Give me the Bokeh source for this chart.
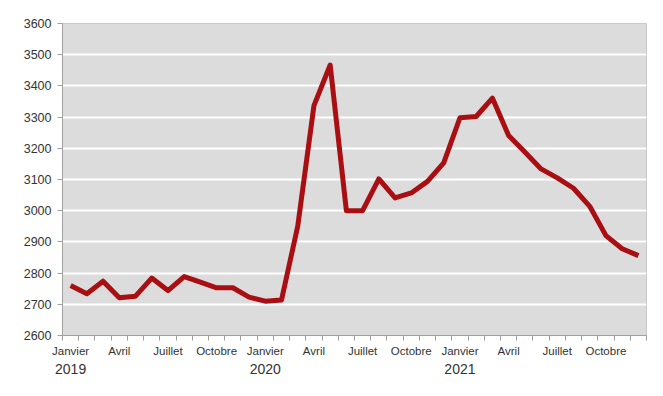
from bokeh.plotting import figure
from bokeh.models import Range1d, LinearAxis, FixedTicker
from bokeh.embed import file_html
from bokeh.resources import INLINE

month_labels = ["Janvier", "Avril", "Juillet", "Octobre"]
years = ["2019", "2020", "2021"]
values = [2760, 2734, 2774, 2721, 2726, 2784, 2744, 2789, 2771, 2753, 2753, 2723,
          2710, 2714, 2950, 3337, 3467, 3000, 3000, 3102, 3041, 3057, 3094, 3153,
          3298, 3302, 3361, 3241, 3188, 3134, 3105, 3072, 3014, 2920, 2878, 2856]
y_ticks = list(range(2600, 3601, 100))

n = len(values)
xs = list(range(n))

FONT = "Liberation Sans"

p = figure(frame_width=584, frame_height=312, output_backend="svg", toolbar_location=None,
           x_range=Range1d(-0.5, n - 0.5), y_range=Range1d(2600, 3600),
           min_border_left=62, min_border_right=9, min_border_top=23, min_border_bottom=8)
p.background_fill_color = "#dcdcdc"
p.border_fill_color = "white"
p.outline_line_color = "#c8c8c8"

p.line(xs, values, line_color="#a90f12", line_width=5, line_join="round")

# y axis
p.yaxis.ticker = FixedTicker(ticks=y_ticks)
p.yaxis.axis_line_color = "#a0a0a0"
p.yaxis.major_tick_line_color = "#a0a0a0"
p.yaxis.major_tick_out = 5
p.yaxis.major_tick_in = 0
p.yaxis.minor_tick_line_color = None
p.yaxis.major_label_text_font = FONT
p.yaxis.major_label_text_font_size = "12.5px"
p.yaxis.major_label_text_color = "#333333"
p.yaxis.major_label_standoff = 6

p.ygrid.grid_line_color = "white"
p.ygrid.grid_line_width = 2
p.xgrid.grid_line_color = None

# x axis: month labels
major = [i for i in xs if i % 3 == 0]
p.xaxis.ticker = FixedTicker(ticks=major, minor_ticks=[i - 0.5 for i in range(n + 1)])
p.xaxis.major_label_overrides = {i: month_labels[(i % 12) // 3] for i in major}
p.xaxis.axis_line_color = "#a0a0a0"
p.xaxis.major_tick_out = 0
p.xaxis.major_tick_in = 0
p.xaxis.minor_tick_out = 5
p.xaxis.minor_tick_in = 0
p.xaxis.minor_tick_line_color = "#a0a0a0"
p.xaxis.major_label_text_font = FONT
p.xaxis.major_label_text_font_size = "11.5px"
p.xaxis.major_label_text_color = "#333333"
p.xaxis.major_label_standoff = 4

# second axis: years
year_ticks = [0, 12, 24]
ax2 = LinearAxis(ticker=FixedTicker(ticks=year_ticks))
ax2.major_label_overrides = {t: years[k] for k, t in enumerate(year_ticks)}
ax2.axis_line_color = None
ax2.major_tick_line_color = None
ax2.minor_tick_line_color = None
ax2.major_tick_out = 0
ax2.major_tick_in = 0
ax2.major_label_text_font = FONT
ax2.major_label_text_font_size = "14px"
ax2.major_label_text_color = "#333333"
ax2.major_label_standoff = 4
p.add_layout(ax2, "below")

open("out.html", "w").write(file_html(p, INLINE))
